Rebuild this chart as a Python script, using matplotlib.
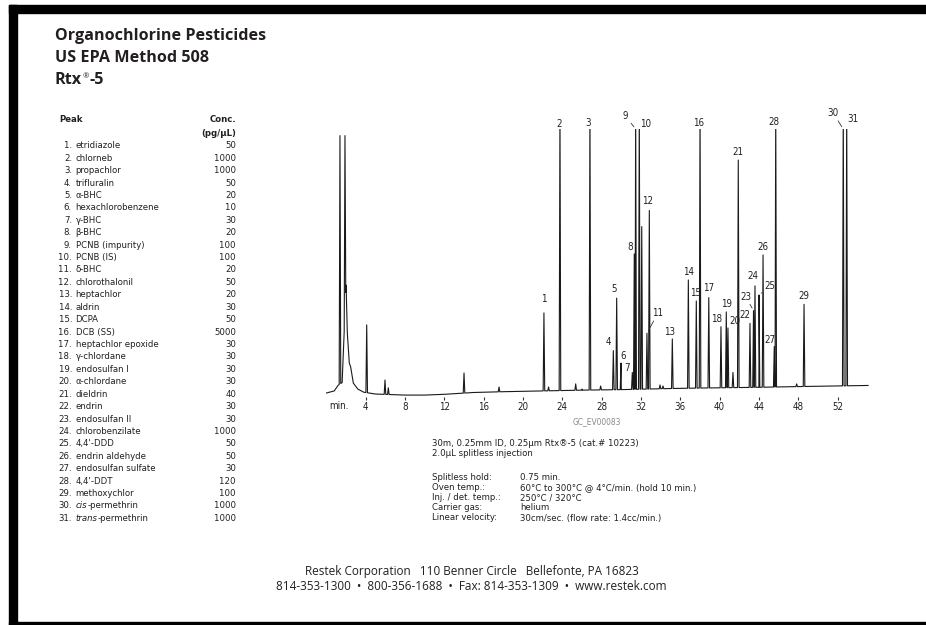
import numpy as np
import matplotlib
matplotlib.use("Agg")
import matplotlib.pyplot as plt
from matplotlib.patches import Rectangle

W, H = 926, 625
INK = "#231f20"
NARROW = ["DejaVu Sans"]
WIDE = ["Open Sans", "DejaVu Sans"]
NKW = dict(family=NARROW, fontstretch="condensed")

# peak table
peak_names = ["etridiazole", "chlorneb", "propachlor", "trifluralin", "\u03b1-BHC",
              "hexachlorobenzene", "\u03b3-BHC", "\u03b2-BHC", "PCNB (impurity)", "PCNB (IS)",
              "\u03b4-BHC", "chlorothalonil", "heptachlor", "aldrin", "DCPA",
              "DCB (SS)", "heptachlor epoxide", "\u03b3-chlordane", "endosulfan I", "\u03b1-chlordane",
              "dieldrin", "endrin", "endosulfan II", "chlorobenzilate", "4,4'-DDD",
              "endrin aldehyde", "endosulfan sulfate", "4,4'-DDT", "methoxychlor", "-permethrin",
              "-permethrin"]
peak_prefix = {29: "cis", 30: "trans"}
peak_conc = [50, 1000, 1000, 50, 20, 10, 30, 20, 100, 100, 20, 50, 20, 30, 50,
             5000, 30, 30, 30, 30, 40, 30, 30, 1000, 50, 50, 30, 120, 100, 1000, 1000]

# labelled peaks: retention time (min) and top of peak (% of full scale)
peak_rt = [22.13, 23.76, 26.81, 29.19, 29.53, 29.97, 31.12, 31.32, 31.46, 31.83,
           32.61, 32.85, 35.19, 36.82, 37.63, 38.01, 38.90, 40.14, 40.68, 40.85,
           41.90, 43.09, 43.45, 43.60, 44.01, 44.42, 45.56, 45.71, 48.59, 52.58, 52.93]
peak_top = [30.8, 110, 110, 16.3, 36.5, 11.5, 7.9, 53.5, 110, 110,
            23.0, 70.2, 20.8, 43.5, 35.4, 110, 36.7, 25.5, 31.2, 25.0,
            89.6, 26.8, 31.7, 41.2, 37.7, 53.1, 17.8, 110, 34.1, 110, 110]

# unlabelled peaks (solvent, impurities, shoulders)
other_rt = [1.38, 1.89, 4.10, 5.96, 6.30, 14.0, 17.56, 22.6, 25.36, 26.0, 27.9,
            32.08, 33.94, 34.24, 41.36, 47.84]
other_top = [99, 99, 26.2, 5.0, 2.0, 7.7, 2.3, 2.3, 3.5, 1.5, 2.7,
             64.0, 3.1, 2.7, 7.9, 3.5]

# baseline incl. solvent tail
base_t = [0, 0.8, 1.2, 1.6, 2.0, 2.13, 2.33, 2.47, 2.74, 3.2, 3.8, 5, 8, 10, 12,
          15, 18, 22, 26, 30, 36, 44, 50, 55.1]
base_v = [0, 0.8, 3.0, 4.0, 41.5, 23.0, 11.5, 10.0, 3.8, 1.5, 0.3, -0.4, -0.8, -0.8, -0.5,
          0.2, 0.5, 0.8, 1.1, 1.3, 1.8, 2.2, 2.6, 2.9]

xticks = list(range(4, 53, 4))

cond_head = ["30m, 0.25mm ID, 0.25\u00b5m Rtx\u00ae-5 (cat.# 10223)", "2.0\u00b5L splitless injection"]
cond_labels = ["Splitless hold:", "Oven temp.:", "Inj. / det. temp.:", "Carrier gas:", "Linear velocity:"]
cond_values = ["0.75 min.", "60\u00b0C to 300\u00b0C @ 4\u00b0C/min. (hold 10 min.)", "250\u00b0C / 320\u00b0C",
               "helium", "30cm/sec. (flow rate: 1.4cc/min.)"]

fig = plt.figure(figsize=(W / 100, H / 100), dpi=100)
fig.patch.set_facecolor("white")
renderer = fig.canvas.get_renderer()


def ftext(x, y, s, **kw):
    kw.setdefault("color", INK)
    return fig.text(x / W, 1 - y / H, s, **kw)


def right_px(t):
    return t.get_window_extent(renderer).x1


# page border
for (x0, y0, x1, y1) in [(9, 5, 17, 625), (9, 5, 926, 13), (9, 622, 926, 625)]:
    fig.patches.append(Rectangle((x0 / W, 1 - y1 / H), (x1 - x0) / W, (y1 - y0) / H,
                                 transform=fig.transFigure, color="black", zorder=0))

# titles
tkw = dict(family=WIDE, weight="bold", fontsize=11.6, va="baseline")
ftext(55, 39.5, "Organochlorine Pesticides", **tkw)
ftext(55, 62, "US EPA Method 508", **tkw)
t = ftext(55, 84, "Rtx", **tkw)
x = right_px(t) + 0.5
r = ftext(x, 78, "\u00ae", family=WIDE, fontsize=5.5, va="baseline")
ftext(right_px(r) + 0.5, 84, "-5", **tkw)

# peak table
fs = 6.8
ftext(59, 122.3, "Peak", weight="bold", fontsize=fs, va="baseline", **NKW)
ftext(236, 122.3, "Conc.", weight="bold", fontsize=fs, va="baseline", ha="right", **NKW)
ftext(236, 135.7, "(pg/\u00b5L)", weight="bold", fontsize=fs, va="baseline", ha="right", **NKW)
for i, (name, conc) in enumerate(zip(peak_names, peak_conc)):
    yb = 148.3 + 12.42 * i
    ftext(72, yb, f"{i + 1}.", fontsize=fs, va="baseline", ha="right", **NKW)
    x = 75.5
    if i in peak_prefix:
        p = ftext(x, yb, peak_prefix[i], fontsize=fs, va="baseline", style="italic", **NKW)
        x = right_px(p) + 0.3
    ftext(x, yb, name, fontsize=fs, va="baseline", **NKW)
    ftext(236, yb, str(conc), fontsize=fs, va="baseline", ha="right", **NKW)

# chromatogram
ax = fig.add_axes([326.4 / W, 1 - 396.9 / H, 56 * 9.83 / W, (396.9 - 129.1) / H])
ax.set_xlim(0, 56)
ax.set_ylim(-1.5, 101.5)
ax.patch.set_alpha(0)

all_rt = np.r_[peak_rt, other_rt]
all_top = np.r_[peak_top, other_top]
w = 0.08
fl, fr = all_rt - w, all_rt + w
tt_ = np.r_[base_t, fl, all_rt, fr]
yy_ = np.r_[base_v, np.interp(fl, base_t, base_v), all_top, np.interp(fr, base_t, base_v)]
order = np.argsort(tt_, kind="stable")
ax.plot(tt_[order], yy_[order], color="#1a1a1a", lw=0.8)

for s in ax.spines.values():
    s.set_visible(False)
ax.set_yticks([])
ax.set_xticks(xticks)
ax.set_xticklabels([str(v) for v in xticks], fontsize=7, color=INK, **NKW)
ax.tick_params(axis="x", length=2, width=0.8, pad=2, color="#333333")

offsets = {1: (0, 14), 2: (-1, 5), 3: (-2, 6), 4: (-5, 9), 5: (-3, 9), 6: (2, 7), 7: (-5, 4),
           8: (-4, 7), 10: (6, 5), 12: (-2, 9), 13: (-3, 7), 15: (-1, 8), 16: (-1, 6),
           17: (0, 10), 18: (-4, 8), 20: (7, 7), 22: (-5, 8), 24: (-2, 10), 27: (-4, 7),
           28: (-2, 7), 31: (6, 10)}
leaders = {9: (-10, 13), 11: (11, 20), 23: (-8, 14), 25: (11, 9), 30: (-10, 16)}
ytop = ax.get_ylim()[1]
for i, (rt, top) in enumerate(zip(peak_rt, peak_top)):
    n = i + 1
    anchor = (rt, min(top, ytop))
    if n in leaders:
        ax.annotate(str(n), anchor, xytext=leaders[n], textcoords="offset pixels",
                    ha="center", va="center", fontsize=7, color=INK,
                    annotation_clip=False, **NKW,
                    arrowprops=dict(arrowstyle="-", lw=0.6, color="#333333", shrinkA=0, shrinkB=2))
    else:
        ax.annotate(str(n), anchor, xytext=offsets.get(n, (0, 8)), textcoords="offset pixels",
                    ha="center", va="center", fontsize=7, color=INK,
                    annotation_clip=False, **NKW)

ftext(339, 406, "min.", fontsize=7, va="center", ha="center", **NKW)
ftext(597, 421.7, "GC_EV00083", fontsize=6, va="center", ha="center", color="#8a8a8a", **NKW)

# conditions
for j, s in enumerate(cond_head):
    ftext(431.7, 445.5 + 11 * j, s, fontsize=fs, va="baseline", **NKW)
for j, (lab, val) in enumerate(zip(cond_labels, cond_values)):
    yb = 480.5 + 10 * j
    ftext(431.7, yb, lab, fontsize=fs, va="baseline", **NKW)
    ftext(520, yb, val, fontsize=fs, va="baseline", **NKW)

# footer
ftext(471.5, 575.5, "Restek Corporation   110 Benner Circle   Bellefonte, PA 16823",
      family=WIDE, fontsize=8.5, va="baseline", ha="center")
ftext(471.5, 590.5, "814-353-1300  \u2022  800-356-1688  \u2022  Fax: 814-353-1309  \u2022  www.restek.com",
      family=WIDE, fontsize=8.5, va="baseline", ha="center")

fig.savefig("out.png", dpi=100)
